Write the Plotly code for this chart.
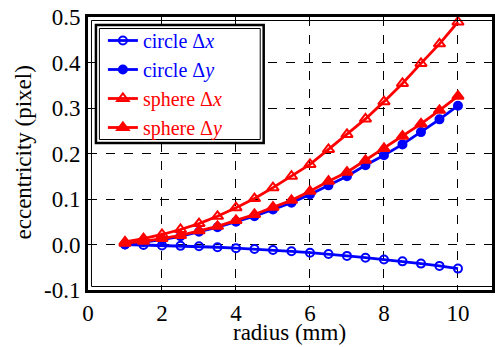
import plotly.graph_objects as go

radius = [1, 1.5, 2, 2.5, 3, 3.5, 4, 4.5, 5, 5.5, 6, 6.5, 7, 7.5, 8, 8.5, 9, 9.5, 10]
circle_dx = [0.0, -0.001, -0.002, -0.003, -0.004, -0.006, -0.008, -0.010, -0.012, -0.015,
             -0.018, -0.021, -0.025, -0.029, -0.033, -0.037, -0.042, -0.047, -0.053]
circle_dy = [0.0, 0.005, 0.011, 0.018, 0.028, 0.038, 0.050, 0.062, 0.077, 0.092,
             0.110, 0.130, 0.150, 0.174, 0.196, 0.220, 0.247, 0.275, 0.305]
sphere_dx = [0.006, 0.013, 0.022, 0.033, 0.046, 0.062, 0.081, 0.101, 0.125, 0.150,
             0.176, 0.209, 0.242, 0.276, 0.314, 0.354, 0.398, 0.441, 0.489]
sphere_dy = [0.003, 0.007, 0.013, 0.020, 0.030, 0.040, 0.053, 0.066, 0.082, 0.097,
             0.117, 0.139, 0.159, 0.185, 0.211, 0.238, 0.265, 0.295, 0.326]
y_ticks = [-0.1, 0.0, 0.1, 0.2, 0.3, 0.4, 0.5]
y_tick_labels = ["-0.1", "0.0", "0.1", "0.2", "0.3", "0.4", "0.5"]
x_ticks = [0, 2, 4, 6, 8, 10]

BLUE = "#0000ff"
RED = "#ff0000"
FONT = "Liberation Serif"

W, H = 495, 347
ML, MR, MT, MB = 88, 0, 17, 57
PW, PH = W - ML - MR, H - MT - MB

fig = go.Figure()
series = [
    ("circle Δ<i>x</i>", circle_dx, BLUE, "circle-open", 8),
    ("circle Δ<i>y</i>", circle_dy, BLUE, "circle", 8),
    ("sphere Δ<i>x</i>", sphere_dx, RED, "triangle-up-open", 10),
    ("sphere Δ<i>y</i>", sphere_dy, RED, "triangle-up", 10),
]
for name, vals, col, sym, size in series:
    fig.add_trace(go.Scatter(
        x=radius, y=vals, mode="lines+markers",
        name=f"<span style='color:{col}'>{name}</span>",
        line=dict(color=col, width=2.8),
        marker=dict(symbol=sym, size=size, color=col,
                    line=dict(color=col, width=2)),
    ))

def px2x(p):
    return (p - ML) / PW

def px2y(p):
    return (H - MB - p) / PH

shapes = [
    # inner thin line of double plot frame
    dict(type="rect", xref="paper", yref="paper",
         x0=px2x(91.5), x1=1.05, y0=px2y(286.5), y1=px2y(20.5),
         line=dict(color="black", width=1), fillcolor="rgba(0,0,0,0)", layer="above"),
    # legend frame: outer thick + inner thin, white fill
    dict(type="rect", xref="paper", yref="paper",
         x0=px2x(96), x1=px2x(265), y0=px2y(143), y1=px2y(25),
         line=dict(color="black", width=2.5), fillcolor="white", layer="above"),
    dict(type="rect", xref="paper", yref="paper",
         x0=px2x(99.5), x1=px2x(261.5), y0=px2y(139.5), y1=px2y(28.5),
         line=dict(color="black", width=1), fillcolor="rgba(0,0,0,0)", layer="above"),
]

fig.update_layout(
    width=W, height=H,
    margin=dict(l=ML, r=MR, t=MT, b=MB),
    paper_bgcolor="white", plot_bgcolor="white",
    font=dict(family=FONT, size=22, color="black"),
    showlegend=True,
    legend=dict(x=px2x(103), y=px2y(84), xanchor="left", yanchor="middle",
                bgcolor="rgba(0,0,0,0)", borderwidth=0,
                font=dict(family=FONT, size=20), tracegroupgap=0,
                itemwidth=30),
    shapes=shapes,
    xaxis=dict(range=[0, 10.92], tickvals=x_ticks,
               showgrid=True, gridcolor="black", griddash="dash", gridwidth=1,
               showline=True, linecolor="black", linewidth=3, mirror="ticks",
               ticks="inside", ticklen=5, tickcolor="black",
               zeroline=False, tickfont=dict(family=FONT, size=23)),
    yaxis=dict(range=[-0.1, 0.5], tickvals=y_ticks, ticktext=y_tick_labels,
               showgrid=True, gridcolor="black", griddash="dash", gridwidth=1,
               showline=True, linecolor="black", linewidth=3, mirror="ticks",
               ticks="inside", ticklen=5, tickcolor="black",
               zeroline=False, tickfont=dict(family=FONT, size=23)),
    annotations=[
        dict(text="radius (mm)", xref="paper", yref="paper",
             x=px2x(291), y=px2y(333), xanchor="center", yanchor="middle",
             showarrow=False, font=dict(family=FONT, size=23)),
        dict(text="eccentricity (pixel)", xref="paper", yref="paper",
             x=px2x(23), y=px2y(152), xanchor="center", yanchor="middle",
             textangle=-90, showarrow=False, font=dict(family=FONT, size=23)),
    ],
)

fig.write_html("out.html", config={"displayModeBar": False},
               post_script="document.body.style.margin='0';document.body.style.overflow='hidden';")
